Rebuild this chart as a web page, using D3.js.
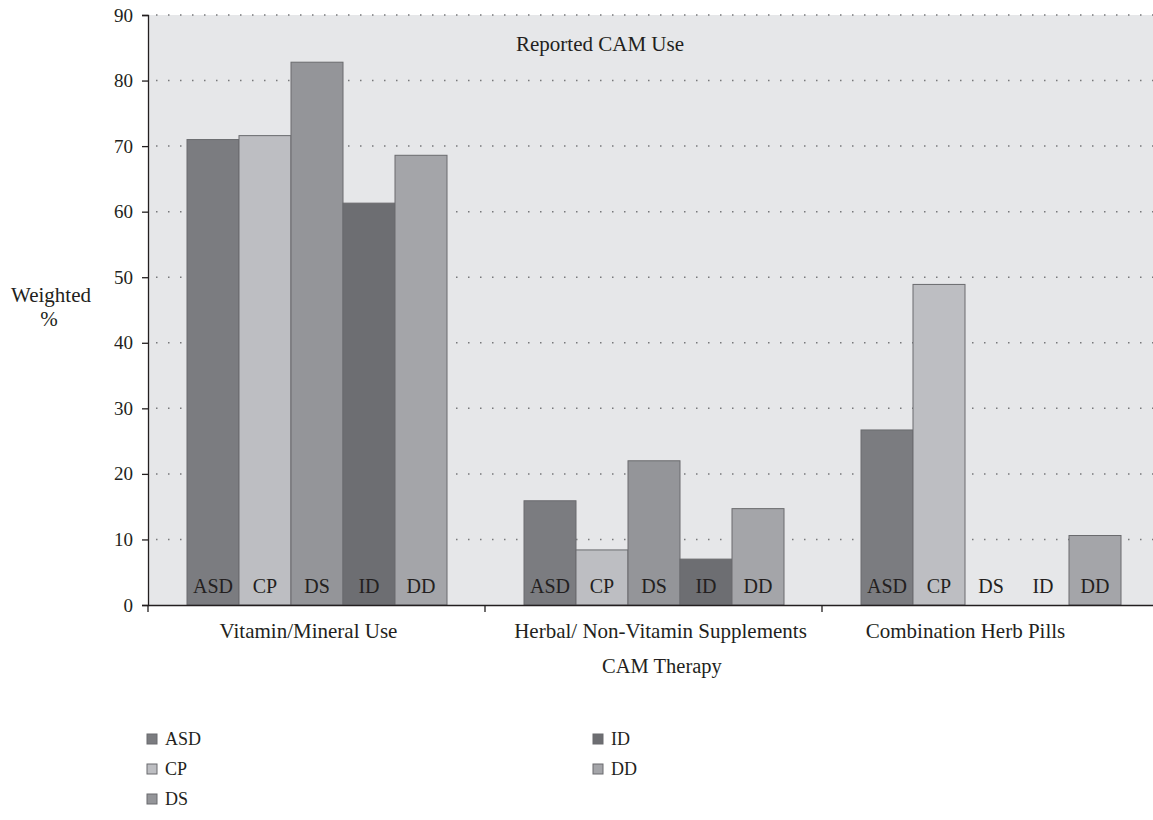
<!DOCTYPE html>
<html>
<head>
  <meta charset="UTF-8">
  <style>
    body { margin: 0; background: white; font-family: "Liberation Serif", serif; }
    svg text { font-family: "Liberation Serif", "DejaVu Serif", serif; fill: #231f20; }
  </style>
</head>
<body>
<svg></svg>
<script src="https://d3js.org/d3.v7.min.js"></script>
<script>

let width = 1153, height = 820;

// data
let categories = ["Vitamin/Mineral Use", "Herbal/ Non-Vitamin Supplements", "Combination Herb Pills"];
let groups = ["ASD", "CP", "DS", "ID", "DD"];
let valuesASD = [71.0, 15.9, 26.7];
let valuesCP  = [71.6, 8.4, 48.9];
let valuesDS  = [82.8, 22.0, 0];
let valuesID  = [61.3, 7.0, 0];
let valuesDD  = [68.6, 14.7, 10.6];
let yTicks = [0, 10, 20, 30, 40, 50, 60, 70, 80, 90];

let series = [valuesASD, valuesCP, valuesDS, valuesID, valuesDD];
let colors = { ASD: "#7b7c80", CP: "#bdbec2", DS: "#949599", ID: "#6d6e72", DD: "#a4a5a9" };

let svg = d3.select("svg").attr("width", width).attr("height", height);

let margin = { left: 148, top: 15, bottom: 605, right: 1159 };

let x = d3.scaleBand().domain(categories).range([margin.left, margin.right]);
let xInner = d3.scaleBand().domain(groups).range([39, x.bandwidth() - 38]);
let y = d3.scaleLinear().domain([0, 90]).range([margin.bottom, margin.top]);

// plot background
svg.append("rect")
    .attr("x", margin.left).attr("y", margin.top)
    .attr("width", width - margin.left).attr("height", margin.bottom - margin.top)
    .attr("fill", "#e6e7e9");

// dotted gridlines
svg.append("g")
  .selectAll("line")
  .data(yTicks.filter(d => d > 0))
  .enter()
  .append("line")
    .attr("x1", margin.left + 8).attr("x2", width)
    .attr("y1", d => y(d)).attr("y2", d => y(d))
    .attr("stroke", "#77787b")
    .attr("stroke-width", 1.5)
    .attr("stroke-dasharray", "1.5 10.5");

// bars
let rows = [];
categories.forEach((c, ci) => {
  groups.forEach((g, gi) => rows.push({ cat: c, grp: g, val: series[gi][ci] }));
});

svg.append("g")
  .selectAll("rect")
  .data(rows.filter(d => d.val > 0))
  .enter()
  .append("rect")
    .attr("x", d => x(d.cat) + xInner(d.grp))
    .attr("y", d => y(d.val))
    .attr("width", xInner.bandwidth())
    .attr("height", d => y(0) - y(d.val))
    .attr("fill", d => colors[d.grp])
    .attr("stroke", "#6a6b6e")
    .attr("stroke-width", 1);

// group labels inside bars
svg.append("g")
  .selectAll("text")
  .data(rows)
  .enter()
  .append("text")
    .attr("x", d => x(d.cat) + xInner(d.grp) + xInner.bandwidth() / 2)
    .attr("y", 593)
    .attr("text-anchor", "middle")
    .attr("font-size", 20)
    .text(d => d.grp);

// y axis
let yAxis = d3.axisLeft(y).tickValues(yTicks).tickSize(6).tickPadding(9);
let gy = svg.append("g")
    .attr("transform", `translate(${margin.left},0)`)
    .call(yAxis);
gy.select(".domain").attr("stroke", "#231f20").attr("stroke-width", 1.3);
gy.selectAll(".tick line").attr("stroke", "#231f20").attr("stroke-width", 1.3);
gy.selectAll(".tick text").attr("font-size", 19).attr("fill", "#231f20");

// x axis
let labelShift = [-8, 7, -25];   // the source labels sit a little off the band centres
let xAxis = d3.axisBottom(x).tickSize(0).tickPadding(18);
let gx = svg.append("g")
    .attr("transform", `translate(0,${margin.bottom})`)
    .call(xAxis);
gx.select(".domain").attr("stroke", "#231f20").attr("stroke-width", 1.3);
gx.selectAll(".tick text")
    .attr("font-size", 21).attr("fill", "#231f20")
    .attr("dx", (d, i) => labelShift[i]);

// category boundary ticks
svg.append("g")
  .selectAll("line")
  .data(categories)
  .enter()
  .append("line")
    .attr("x1", d => x(d)).attr("x2", d => x(d))
    .attr("y1", margin.bottom).attr("y2", margin.bottom + 7)
    .attr("stroke", "#231f20").attr("stroke-width", 1.3);

// titles
svg.append("text")
    .attr("x", 600).attr("y", 51)
    .attr("text-anchor", "middle").attr("font-size", 21)
    .text("Reported CAM Use");

svg.append("text")
    .attr("x", 662).attr("y", 673)
    .attr("text-anchor", "middle").attr("font-size", 20.5)
    .text("CAM Therapy");

svg.append("text")
    .attr("x", 51).attr("y", 302)
    .attr("text-anchor", "middle").attr("font-size", 21)
    .text("Weighted");
svg.append("text")
    .attr("x", 49).attr("y", 326)
    .attr("text-anchor", "middle").attr("font-size", 21)
    .text("%");

// legend
let legendPos = [[147, 745], [147, 775], [147, 805], [593, 745], [593, 775]];
let legend = svg.append("g")
  .selectAll("g")
  .data(groups)
  .enter()
  .append("g")
    .attr("transform", (d, i) => `translate(${legendPos[i][0]},${legendPos[i][1]})`);

legend.append("rect")
    .attr("x", 0).attr("y", -11)
    .attr("width", 10).attr("height", 10)
    .attr("fill", d => colors[d])
    .attr("stroke", "#6a6b6e").attr("stroke-width", 1);

legend.append("text")
    .attr("x", 18).attr("y", 0)
    .attr("font-size", 18)
    .text(d => d);

</script>
</body>
</html>
